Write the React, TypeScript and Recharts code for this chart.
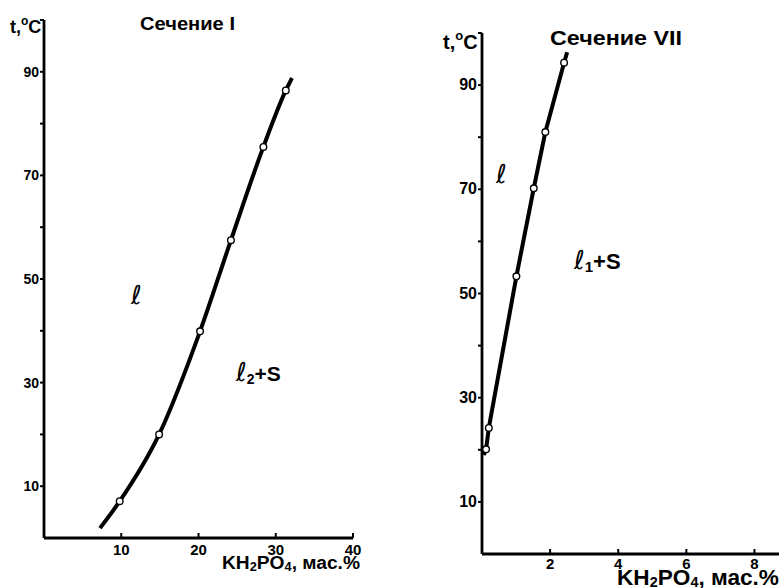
import { ComposedChart, Line, Scatter, XAxis, YAxis } from "recharts";

// Сечение I — KH2PO4, мас.% vs t, °C
const sec1X = [9.8, 14.9, 20.2, 24.2, 28.4, 31.3];
const sec1T = [7.1, 20.0, 39.9, 57.5, 75.5, 86.4];
const sec1LineStart = [7.25, 1.9];
const sec1LineEnd = [32.1, 88.8];
const sec1XTicks = [10, 20, 30, 40];

// Сечение VII
const sec7X = [0.12, 0.2, 1.01, 1.52, 1.86, 2.41];
const sec7T = [20.1, 24.2, 53.3, 70.2, 81.0, 94.3];
const sec7LineStart = [0.05, 19.0];
const sec7LineEnd = [2.5, 96.3];
const sec7XTicks = [2, 4, 6, 8];

const tempTicks = [10, 20, 30, 40, 50, 60, 70, 80, 90, 100];
const tempLabels = [10, 30, 50, 70, 90];

const FONT = "'Liberation Sans', Arial, sans-serif";
const SCRIPT = "'DejaVu Sans', sans-serif";

type Pt = { x: number; t: number };

const toPoints = (xs: number[], ts: number[]): Pt[] => xs.map((x, i) => ({ x, t: ts[i] }));

const Dot = (props: any) => (
  <circle cx={props.cx} cy={props.cy} r={3.3} fill="#fff" stroke="#000" strokeWidth={1.4} />
);

interface SectionProps {
  xs: number[];
  ts: number[];
  start: number[];
  end: number[];
  xTicks: number[];
  xMax: number;
  width: number;
  margin: { top: number; right: number; bottom: number; left: number };
  yAxisWidth: number;
  xAxisHeight: number;
  curve: "monotone" | "linear";
  tickFont: number;
  yTickFont: number;
  xLabelDy: number;
}

function Section(p: SectionProps) {
  const points = toPoints(p.xs, p.ts);
  const curve: Pt[] = [
    { x: p.start[0], t: p.start[1] },
    ...points,
    { x: p.end[0], t: p.end[1] },
  ];

  const XTick = (props: any) => {
    const { x, y, payload } = props;
    return (
      <g>
        <line x1={x} x2={x} y1={y} y2={y - 5} stroke="#000" strokeWidth={2} />
        <text x={x} y={y + p.xLabelDy} textAnchor="middle" fontFamily={FONT} fontWeight="bold" fontSize={p.tickFont} fill="#000">
          {payload.value}
        </text>
      </g>
    );
  };

  const YTick = (props: any) => {
    const { x, y, payload } = props;
    if (!tempLabels.includes(payload.value)) return <g />;
    return (
      <text x={x} y={y + 5} textAnchor="end" fontFamily={FONT} fontWeight="bold" fontSize={p.yTickFont} fill="#000">
        {payload.value}
      </text>
    );
  };

  return (
    <ComposedChart width={p.width} height={588} margin={p.margin}>
      <XAxis
        type="number"
        dataKey="x"
        domain={[0, p.xMax]}
        ticks={p.xTicks}
        allowDataOverflow
        height={p.xAxisHeight}
        tickSize={0}
        tickMargin={0}
        tickLine={false}
        tick={XTick}
        axisLine={{ stroke: "#000", strokeWidth: 2.8 }}
      />
      <YAxis
        type="number"
        dataKey="t"
        domain={[0, 100]}
        ticks={tempTicks}
        width={p.yAxisWidth}
        tickSize={4}
        tickMargin={1}
        tickLine={{ stroke: "#000", strokeWidth: 2 }}
        tick={YTick}
        axisLine={{ stroke: "#000", strokeWidth: 2.8 }}
      />
      <Line
        data={curve}
        dataKey="t"
        type={p.curve}
        stroke="#000"
        strokeWidth={4}
        dot={false}
        activeDot={false}
        isAnimationActive={false}
      />
      <Scatter data={points} dataKey="t" shape={Dot} isAnimationActive={false} />
    </ComposedChart>
  );
}

export default function App() {
  return (
    <div style={{ position: "absolute", left: 0, top: 0, width: 779, height: 588, background: "#fff", overflow: "hidden" }}>
      <div style={{ position: "absolute", left: 0, top: 0 }}>
        <Section
          xs={sec1X}
          ts={sec1T}
          start={sec1LineStart}
          end={sec1LineEnd}
          xTicks={sec1XTicks}
          xMax={40}
          width={380}
          margin={{ top: 20, right: 27, bottom: 0, left: 4 }}
          yAxisWidth={40}
          xAxisHeight={50}
          curve="monotone"
          tickFont={15}
          yTickFont={14}
          xLabelDy={17}
        />
      </div>
      <div style={{ position: "absolute", left: 400, top: 0 }}>
        <Section
          xs={sec7X}
          ts={sec7T}
          start={sec7LineStart}
          end={sec7LineEnd}
          xTicks={sec7XTicks}
          xMax={8.72}
          width={379}
          margin={{ top: 33, right: 0, bottom: 0, left: 32 }}
          yAxisWidth={50}
          xAxisHeight={34}
          curve="linear"
          tickFont={15}
          yTickFont={16}
          xLabelDy={15}
        />
      </div>
      <svg width={779} height={588} style={{ position: "absolute", left: 0, top: 0, pointerEvents: "none" }}>
        <g fontFamily={FONT} fontWeight="bold" fill="#000">
          {/* Сечение I */}
          <text x={10} y={33} fontSize={18}>
            t,<tspan fontSize={12} dy={-8}>o</tspan><tspan dy={8}>C</tspan>
          </text>
          <text x={140} y={30} fontSize={19} textLength={95} lengthAdjust="spacingAndGlyphs">Сечение I</text>
          <text x={222} y={569} fontSize={18} textLength={138} lengthAdjust="spacingAndGlyphs">
            KH<tspan fontSize={12} dy={2}>2</tspan><tspan dy={-2}>PO</tspan><tspan fontSize={12} dy={2}>4</tspan><tspan dy={-2}>, мас.%</tspan>
          </text>
          <text x={236} y={381} fontSize={21}>
            <tspan fontFamily={SCRIPT} fontWeight="normal" fontStyle="italic" fontSize={26}>ℓ</tspan><tspan fontSize={14} dy={3}>2</tspan><tspan dy={-3}>+S</tspan>
          </text>
          <text x={131} y={304} fontFamily={SCRIPT} fontWeight="normal" fontStyle="italic" fontSize={26}>ℓ</text>

          {/* Сечение VII */}
          <text x={443} y={49} fontSize={20}>
            t,<tspan fontSize={13} dy={-9}>o</tspan><tspan dy={9}>C</tspan>
          </text>
          <text x={550} y={45} fontSize={20} textLength={132} lengthAdjust="spacingAndGlyphs">Сечение VII</text>
          <text x={617} y={585} fontSize={22} textLength={162} lengthAdjust="spacingAndGlyphs">
            KH<tspan fontSize={14} dy={2}>2</tspan><tspan dy={-2}>PO</tspan><tspan fontSize={14} dy={2}>4</tspan><tspan dy={-2}>, мас.%</tspan>
          </text>
          <text x={574} y={269} fontSize={22}>
            <tspan fontFamily={SCRIPT} fontWeight="normal" fontStyle="italic" fontSize={26}>ℓ</tspan><tspan fontSize={15} dy={3}>1</tspan><tspan dy={-3}>+S</tspan>
          </text>
          <text x={496} y={183} fontFamily={SCRIPT} fontWeight="normal" fontStyle="italic" fontSize={26}>ℓ</text>
        </g>
      </svg>
    </div>
  );
}
